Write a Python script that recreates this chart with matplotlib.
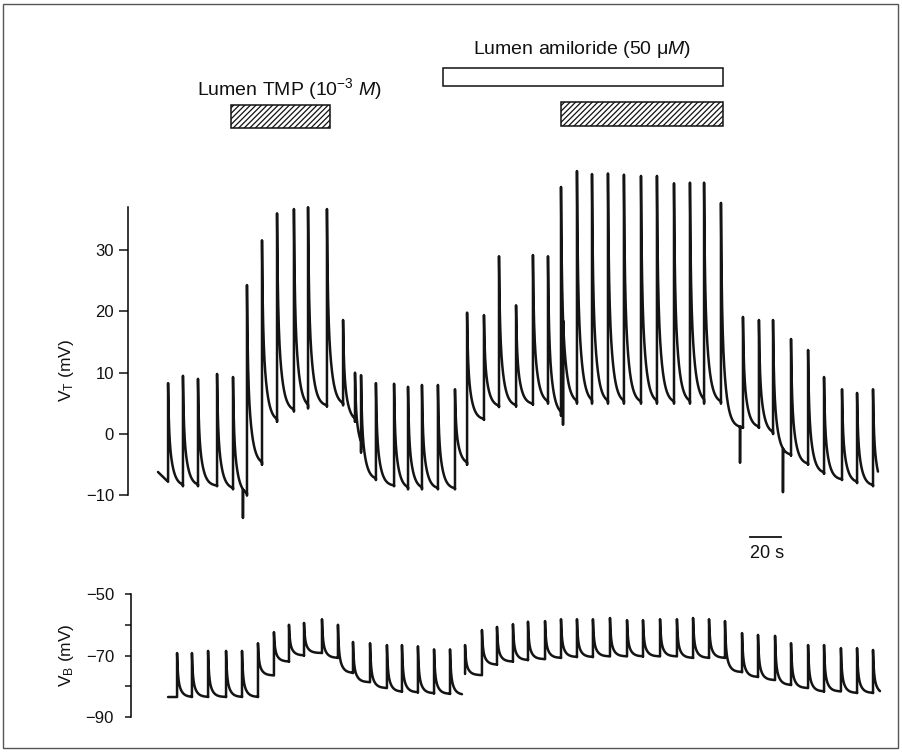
import numpy as np
import matplotlib
matplotlib.use("Agg")
import matplotlib.pyplot as plt
from matplotlib.patches import Rectangle
from matplotlib.transforms import blended_transform_factory

plt.rcParams['font.family'] = ['Liberation Sans', 'DejaVu Sans']
plt.rcParams['mathtext.fontset'] = 'custom'
plt.rcParams['mathtext.rm'] = 'Liberation Sans'
plt.rcParams['mathtext.it'] = 'Liberation Sans:italic'
plt.rcParams['hatch.linewidth'] = 0.9

# ---- transepithelial potential V_T (mV): spike onset times (s), peaks, pre-spike troughs
vt_times = [6.5, 16.1, 25.8, 38.1, 48.4, 57.4, 67.1, 76.8, 87.7, 96.8, 109.0, 119.4,
            127.1, 131.0, 140.6, 152.3, 161.3, 170.3, 180.6, 191.6, 199.4, 210.3, 220.0,
            231.0, 241.9, 251.6, 260.0, 270.3, 280.0, 290.3, 300.6, 311.6, 321.9, 332.9,
            343.2, 352.3, 363.2, 377.4, 387.7, 396.8, 408.4, 419.4, 429.7, 441.3, 451.0, 461.3]
vt_peaks = [8.3, 9.5, 9.0, 9.8, 9.3, 24.3, 31.6, 36.0, 36.7, 37.0, 36.7, 18.6,
            10.0, 9.6, 8.3, 8.2, 7.7, 8.0, 8.0, 7.3, 19.8, 19.4, 29.0,
            21.0, 29.2, 29.0, 40.3, 42.9, 42.4, 42.5, 42.3, 42.1, 42.1, 40.9,
            41.0, 41.0, 37.7, 19.1, 18.6, 18.6, 15.5, 13.7, 9.3, 7.3, 6.7, 7.3]
vt_troughs = [-7.8, -8.5, -8.5, -8.5, -9.0, -10.0, -5.0, 2.0, 3.7, 4.2, 4.5, 4.7,
              2.0, -3.0, -7.5, -8.5, -9.0, -9.0, -9.0, -9.0, -5.0, 2.3, 4.4,
              4.5, 4.8, 5.0, 3.0, 5.0, 5.0, 5.0, 5.0, 5.0, 5.0, 5.0,
              5.0, 5.0, 5.0, 1.0, 1.0, 0.0, -3.5, -5.0, -6.5, -7.5, -8.0, -8.5]
vt_start = (0.0, -6.2)
vt_end = (464.5, -9.0)
vt_dips_t = [54.8, 261.3, 375.5, 403.2]
vt_dips_v = [-13.7, 1.5, -4.7, -9.5]

# ---- basolateral membrane potential V_B (mV), recorded in two stretches
vb1_times = [12.3, 21.9, 32.3, 43.9, 54.2, 64.5, 74.8, 84.5, 94.2, 105.8, 116.1, 125.8,
             136.8, 147.7, 157.4, 167.7, 178.1, 188.4]
vb1_peaks = [-69.2, -69.2, -68.5, -68.5, -68.5, -66.0, -62.4, -60.0, -59.4, -58.2, -60.0,
             -65.6, -66.0, -66.6, -66.6, -67.0, -68.0, -68.0]
vb1_troughs = [-83.5, -83.5, -83.5, -83.5, -83.5, -83.5, -76.5, -72.0, -70.0, -69.2,
               -70.8, -75.7, -78.7, -80.6, -81.8, -82.0, -82.3, -82.5]
vb1_start = (6.5, -83.5)
vb1_end = (196.1, -82.8)

vb2_times = [198.1, 209.0, 218.7, 229.0, 238.7, 249.7, 260.0, 270.3, 280.6, 291.6, 302.6,
             312.9, 323.9, 334.8, 345.2, 355.5, 365.8, 376.8, 387.1, 398.1, 408.4, 419.4,
             429.7, 440.6, 451.0, 461.3]
vb2_peaks = [-66.6, -61.7, -60.7, -59.8, -59.0, -58.8, -58.2, -58.2, -58.2, -57.8, -58.5,
             -58.5, -58.2, -58.2, -57.8, -58.2, -58.8, -62.7, -63.3, -63.6, -66.0, -66.6,
             -66.6, -67.6, -67.6, -68.2]
vb2_troughs = [-76.0, -76.4, -73.0, -72.0, -71.5, -71.2, -70.8, -70.5, -70.5, -70.3, -70.3,
               -70.3, -70.3, -70.3, -70.8, -70.8, -70.8, -75.4, -77.0, -78.0, -79.6, -80.6,
               -81.7, -81.7, -82.2, -82.2]
vb2_start = (198.1, -76.0)
vb2_end = (465.8, -82.5)

# treatment periods (s)
tmp_periods = [(47.1, 111.0), (260.0, 364.5)]
amiloride_period = (183.9, 364.5)


def build_trace(times, peaks, troughs, start, end, fast, slow, w_fast,
                dips_t=(), dips_v=()):
    """Piecewise trace: vertical upstroke at each onset, two-exponential
    relaxation towards the trough recorded before the next spike."""
    xs, ys = [start[0]], [start[1]]
    n = len(times)
    for i in range(n):
        t0 = times[i]
        t1 = times[i + 1] if i + 1 < n else end[0]
        floor = troughs[i + 1] if i + 1 < n else end[1]
        xs += [t0, t0]
        ys += [troughs[i], peaks[i]]
        dt = np.linspace(0, t1 - t0, max(int((t1 - t0) / 0.05), 2))[1:]
        shape = w_fast * np.exp(-dt / fast) + (1 - w_fast) * np.exp(-dt / slow)
        xs += list(t0 + dt)
        ys += list(floor + (peaks[i] - floor) * shape)
    xs = np.array(xs)
    ys = np.array(ys)
    for td, vd in zip(dips_t, dips_v):
        k = np.searchsorted(xs, td)
        base = ys[k]
        xs = np.insert(xs, k, [td, td, td])
        ys = np.insert(ys, k, [base, vd, base])
    return xs, ys


W, H = 903, 752
fig = plt.figure(figsize=(W / 100, H / 100), dpi=100)
PT = 72 / 100    # points per pixel

px_s = 1.55      # horizontal scale, pixels per second
x0_px = 158      # pixel column of t = 0
right_px = 890

def axes_rect(left_px, top_px, bottom_px):
    return [left_px / W, 1 - bottom_px / H, (right_px - left_px) / W, (bottom_px - top_px) / H]

# V_T panel: 6.13 px per mV, 0 mV at row 434
axT = fig.add_axes(axes_rect(128, 434 - 44 * 6.13, 434 + 16 * 6.13))
axT.set_xlim((128 - x0_px) / px_s, (right_px - x0_px) / px_s)
axT.set_ylim(-16, 44)

# V_B panel: 3.075 px per mV, -50 mV at row 594
axB = fig.add_axes(axes_rect(131, 594 - 2 * 3.075, 594 + 43 * 3.075))
axB.set_xlim((131 - x0_px) / px_s, (right_px - x0_px) / px_s)
axB.set_ylim(-93, -48)

trace_kw = dict(color='#141414', lw=1.8, solid_joinstyle='round', solid_capstyle='round')

xt, yt = build_trace(vt_times, vt_peaks, vt_troughs, vt_start, vt_end,
                     0.5, 2.6, 0.4, vt_dips_t, vt_dips_v)
axT.plot(xt, yt, **trace_kw)

for tm, pk, tr, st, en in [(vb1_times, vb1_peaks, vb1_troughs, vb1_start, vb1_end),
                           (vb2_times, vb2_peaks, vb2_troughs, vb2_start, vb2_end)]:
    xb, yb = build_trace(tm, pk, tr, st, en, 0.5, 2.2, 0.5)
    axB.plot(xb, yb, **trace_kw)

for ax in (axT, axB):
    for s in ('top', 'right', 'bottom'):
        ax.spines[s].set_visible(False)
    ax.spines['left'].set_linewidth(1.1)
    ax.set_xticks([])
    ax.patch.set_visible(False)

axT.tick_params(axis='y', direction='out', length=9 * PT, width=1.1, pad=5 * PT,
                labelsize=12, colors='#111111')
axB.tick_params(axis='y', direction='out', length=6 * PT, width=1.1, pad=11 * PT,
                labelsize=12, colors='#111111')

axT.spines['left'].set_bounds(-10, 37)
axT.set_yticks([-10, 0, 10, 20, 30])
axB.spines['left'].set_bounds(-90, -50)
axB.set_yticks([-90, -80, -70, -60, -50])
axB.set_yticklabels(['\u221290', '', '\u221270', '', '\u221250'])

fig.text(67 / W, 1 - 370 / H, r'V$_\mathrm{T}$ (mV)', rotation=90,
         ha='center', va='center', fontsize=12.5, color='#111111')
fig.text(67 / W, 1 - 655 / H, r'V$_\mathrm{B}$ (mV)', rotation=90,
         ha='center', va='center', fontsize=12.5, color='#111111')

# treatment bars above the V_T trace
btr = blended_transform_factory(axT.transData, fig.transFigure)
tmp_rows = [(105, 128), (102, 126)]
for (a, b), (top, bot) in zip(tmp_periods, tmp_rows):
    axT.add_patch(Rectangle((a, 1 - bot / H), b - a, (bot - top) / H, transform=btr,
                            facecolor='white', edgecolor='#111111', hatch='//////',
                            lw=1.1, clip_on=False))
a, b = amiloride_period
axT.add_patch(Rectangle((a, 1 - 86 / H), b - a, 18 / H, transform=btr,
                        facecolor='white', edgecolor='#111111', lw=1.1, clip_on=False))

fig.text(290 / W, 1 - 89 / H, r'Lumen TMP (10$^{-3}$ $\mathit{M}$)',
         ha='center', va='center', fontsize=14, color='#111111')
fig.text(582 / W, 1 - 50 / H, r'Lumen amiloride (50 μ$\mathit{M}$)',
         ha='center', va='center', fontsize=14, color='#111111')

# 20 s time calibration
bar_t0 = (750 - x0_px) / px_s
axT.plot([bar_t0, bar_t0 + 20], [(434 - 537) / 6.13] * 2, color='#111111', lw=1.3,
         clip_on=False)
fig.text(767 / W, 1 - 553 / H, '20 s', ha='center', va='center', fontsize=13,
         color='#111111')

# outer frame
fig.patches.append(Rectangle((3 / W, 4 / H), 895 / W, 744 / H, transform=fig.transFigure,
                             fill=False, edgecolor='#555555', lw=1.0))

fig.savefig('out.png', dpi=100, facecolor='white')
